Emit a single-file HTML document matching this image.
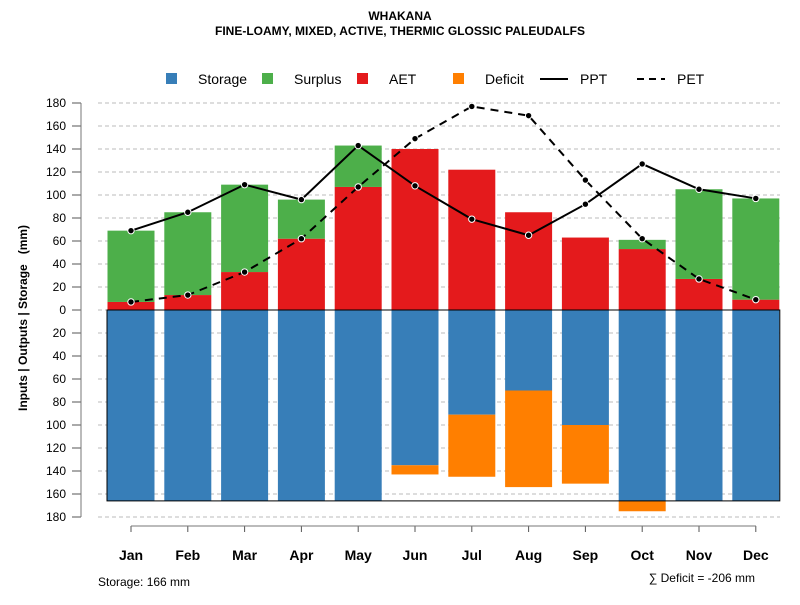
<!DOCTYPE html>
<html><head><meta charset="utf-8"><style>
body{margin:0;background:#fff;font-family:"Liberation Sans",Arial,sans-serif}
svg text{font-family:"Liberation Sans",Arial,sans-serif}
</style></head><body>
<svg id="c" width="800" height="600" xmlns="http://www.w3.org/2000/svg">
<text x="400" y="20" text-anchor="middle" font-size="12" font-weight="bold">WHAKANA</text>
<text x="400" y="35" text-anchor="middle" font-size="12" font-weight="bold">FINE-LOAMY, MIXED, ACTIVE, THERMIC GLOSSIC PALEUDALFS</text>
<text transform="translate(27,318) rotate(-90)" text-anchor="middle" font-size="12" font-weight="bold" xml:space="preserve" style="white-space:pre">Inputs | Outputs | Storage   (mm)</text>
<g id="legend">
<rect x="166" y="73" width="11" height="11" fill="#377EB8"/>
<text x="198" y="84" font-size="14">Storage</text>
<rect x="262" y="73" width="11" height="11" fill="#4DAF4A"/>
<text x="294" y="84" font-size="14">Surplus</text>
<rect x="357" y="73" width="11" height="11" fill="#E41A1C"/>
<text x="389" y="84" font-size="14">AET</text>
<rect x="453" y="73" width="11" height="11" fill="#FF7F00"/>
<text x="485" y="84" font-size="14">Deficit</text>
<line x1="540" y1="79" x2="568" y2="79" stroke="#000" stroke-width="2"/>
<text x="580" y="84" font-size="14">PPT</text>
<line x1="637" y1="79" x2="665" y2="79" stroke="#000" stroke-width="2" stroke-dasharray="7,5"/>
<text x="677" y="84" font-size="14">PET</text>
</g>
<g id="grid"></g><g id="bars"></g><g id="lines"></g><g id="axes"></g>
<text x="98" y="586" font-size="12">Storage: 166 mm</text>
<text x="755" y="582" text-anchor="end" font-size="12">∑ Deficit = -206 mm</text>
</svg>
<script>
const months=["Jan","Feb","Mar","Apr","May","Jun","Jul","Aug","Sep","Oct","Nov","Dec"];
const ppt=[69,85,109,96,143,108,79,65,92,127,105,97];
const pet=[7,13,33,62,107,149,177,169,113,62,27,9];
const aet=[7,13,33,62,107,140,122,85,63,53,27,9];
const surplus=[62,72,76,34,36,0,0,0,0,8,78,88];
const storage=[166,166,166,166,166,135,91,70,100,166,166,166];
const deficit=[0,0,0,0,0,8,54,84,51,9,0,0];
const yTicks=[180,160,140,120,100,80,60,40,20,0,-20,-40,-60,-80,-100,-120,-140,-160,-180];
const SV=166;
const NS="http://www.w3.org/2000/svg";
function y(v){return 310-v*207/180;}
function x(i){return 131+i*56.8;}
const BW=47;
function mk(tag,attrs,parent){const e=document.createElementNS(NS,tag);for(const k in attrs)e.setAttribute(k,attrs[k]);document.getElementById(parent).appendChild(e);return e;}
yTicks.forEach(t=>{
 const g=mk('line',{x1:98,x2:780,y1:y(t),y2:y(t),stroke:'#bbb','stroke-dasharray':'4,3'},'grid');
 
 
 const tk=mk('line',{x1:72,x2:81,y1:y(t),y2:y(t),stroke:'#555'},'axes');
 
 
 const tx=mk('text',{x:66,y:y(t)+4,'text-anchor':'end','font-size':12},'axes');
 tx.textContent=Math.abs(t);
 
 
});
const ax=mk('line',{x1:81,x2:81,y1:y(180),y2:y(-180),stroke:'#777'},'axes');


months.forEach((m,i)=>{
 const cx=x(i);
 const s=mk('rect',{x:cx-BW/2,y:y(0),width:BW,height:y(-storage[i])-y(0),fill:'#377EB8'},'bars');
 
 
 if(deficit[i]>0){const d=mk('rect',{x:cx-BW/2,y:y(-storage[i]),width:BW,height:y(-storage[i]-deficit[i])-y(-storage[i]),fill:'#FF7F00'},'bars');
 
 }
 const a=mk('rect',{x:cx-BW/2,y:y(aet[i]),width:BW,height:y(0)-y(aet[i]),fill:'#E41A1C'},'bars');
 
 
 if(surplus[i]>0){const su=mk('rect',{x:cx-BW/2,y:y(aet[i]+surplus[i]),width:BW,height:y(aet[i])-y(aet[i]+surplus[i]),fill:'#4DAF4A'},'bars');
 
 }
 const tk=mk('line',{x1:cx,x2:cx,y1:526,y2:532,stroke:'#555'},'axes');
 
 
 const t=mk('text',{x:cx,y:560,'text-anchor':'middle','font-size':14,'font-weight':'bold'},'axes');
 t.textContent=m;
 
 
});
const fr=mk('rect',{x:x(0)-BW/2-0.5,y:y(0),width:x(11)-x(0)+BW+1,height:y(-SV)-y(0),fill:'none',stroke:'#000','stroke-width':1},'bars');


const ax2=mk('line',{x1:131,x2:756,y1:526,y2:526,stroke:'#777'},'axes');


function series(vals,dash,name){
 const p=mk('polyline',{points:vals.map((v,i)=>x(i)+','+y(v)).join(' '),fill:'none',stroke:'#000','stroke-width':2,'stroke-dasharray':dash},'lines');
 
 
 vals.forEach((v,i)=>{const c=mk('circle',{cx:x(i),cy:y(v),r:3.2,fill:'#000',stroke:'#fff','stroke-width':1},'lines');
 
 });
}
series(pet,'8,6','pet');
series(ppt,'none','ppt');
</script>
</body></html>
